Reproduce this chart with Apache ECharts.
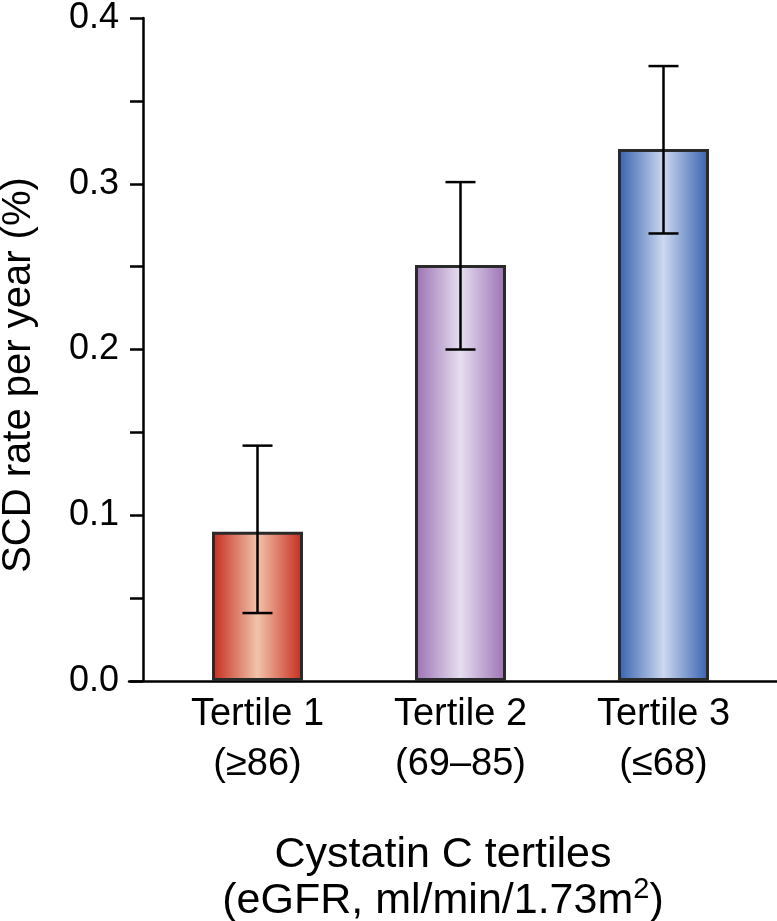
<!DOCTYPE html>
<html>
<head>
<meta charset="utf-8">
<script src="https://cdn.jsdelivr.net/npm/echarts@6/dist/echarts.min.js"></script>
<style>html,body{margin:0;padding:0;background:#fff;}#chart{width:777px;height:921px;}</style>
</head>
<body>
<div id="chart"></div>
<script>
const categories = ['Tertile 1\n(≥86)', 'Tertile 2\n(69–85)', 'Tertile 3\n(≤68)'];
const rates = [0.090, 0.251, 0.321];
const errLow = [0.041, 0.200, 0.270];
const errHigh = [0.142, 0.301, 0.371];
const yTicks = [0, 0.1, 0.2, 0.3, 0.4];
const edgeColors = ['#c52a1c', '#9b70b3', '#3560ae'];
const centerColors = ['#f1c3aa', '#e6def0', '#ccd8f0'];

const FONT = '"Liberation Sans", Arial, Helvetica, sans-serif';
const chart = echarts.init(document.getElementById('chart'), null, {renderer: 'canvas'});

function grad(i) {
  return new echarts.graphic.LinearGradient(0, 0, 1, 0, [
    {offset: 0, color: edgeColors[i]},
    {offset: 0.5, color: centerColors[i]},
    {offset: 1, color: edgeColors[i]}
  ]);
}

const option = {
  animation: false,
  backgroundColor: '#fff',
  grid: [
    {left: 156, right: 12, top: 12, bottom: 240},
    {left: 129, right: 0, top: 12, bottom: 240}
  ],
  xAxis: [
    {
      type: 'category', gridIndex: 0, data: categories,
      axisLine: {show: false}, axisTick: {show: false},
      axisLabel: {fontFamily: FONT, fontSize: 38, lineHeight: 50, color: '#000', margin: 9, interval: 0}
    },
    {
      type: 'value', gridIndex: 1, min: 0, max: 1,
      axisLine: {show: true, onZero: false, lineStyle: {color: '#000', width: 2.5}},
      axisTick: {show: false}, axisLabel: {show: false}, splitLine: {show: false}
    }
  ],
  yAxis: [
    {
      type: 'value', gridIndex: 0, min: yTicks[0], max: yTicks[yTicks.length - 1], interval: 0.1,
      offset: 13,
      axisLine: {show: true, lineStyle: {color: '#000', width: 2.5}},
      axisTick: {show: true, length: 13, lineStyle: {color: '#000', width: 2.5}},
      minorTick: {show: true, splitNumber: 2, length: 13, lineStyle: {color: '#000', width: 2.5}},
      splitLine: {show: false},
      axisLabel: {fontFamily: FONT, fontSize: 36, color: '#000', margin: 24, formatter: v => v.toFixed(1)}
    },
    {
      type: 'value', gridIndex: 1, min: 0, max: 1, show: false
    }
  ],
  series: [
    {
      type: 'bar', xAxisIndex: 0, yAxisIndex: 0, barWidth: 91,
      data: rates.map((v, i) => ({value: v, itemStyle: {color: grad(i), borderColor: '#2a2a2a', borderWidth: 3}})),
      z: 2
    },
    {
      type: 'custom', xAxisIndex: 0, yAxisIndex: 0, z: 5,
      data: categories.map((c, i) => [i, errLow[i], errHigh[i]]),
      renderItem: function (params, api) {
        const x = api.value(0);
        const pLo = api.coord([x, api.value(1)]);
        const pHi = api.coord([x, api.value(2)]);
        const cap = 15;
        const st = {stroke: '#000', lineWidth: 2.5};
        return {type: 'group', children: [
          {type: 'line', shape: {x1: pLo[0], y1: pLo[1], x2: pHi[0], y2: pHi[1]}, style: st},
          {type: 'line', shape: {x1: pLo[0] - cap, y1: pLo[1], x2: pLo[0] + cap, y2: pLo[1]}, style: st},
          {type: 'line', shape: {x1: pHi[0] - cap, y1: pHi[1], x2: pHi[0] + cap, y2: pHi[1]}, style: st}
        ]};
      }
    }
  ],
  graphic: [
    {
      type: 'text', x: 19, y: 375, rotation: Math.PI / 2,
      style: {text: 'SCD rate per year (%)', font: '40px ' + FONT, fill: '#000', textAlign: 'center', textVerticalAlign: 'middle'}
    },
    {
      type: 'text', x: 443, y: 878,
      style: {
        text: 'Cystatin C tertiles\n(eGFR, ml/min/1.73m{sup|2})',
        fill: '#000', fontFamily: FONT, fontSize: 43, lineHeight: 46,
        align: 'center', verticalAlign: 'middle',
        rich: {sup: {fontFamily: FONT, fontSize: 29, lineHeight: 46, padding: [0, 0, 22, 0], fill: '#000'}}
      }
    }
  ]
};
chart.setOption(option);
</script>
</body>
</html>
